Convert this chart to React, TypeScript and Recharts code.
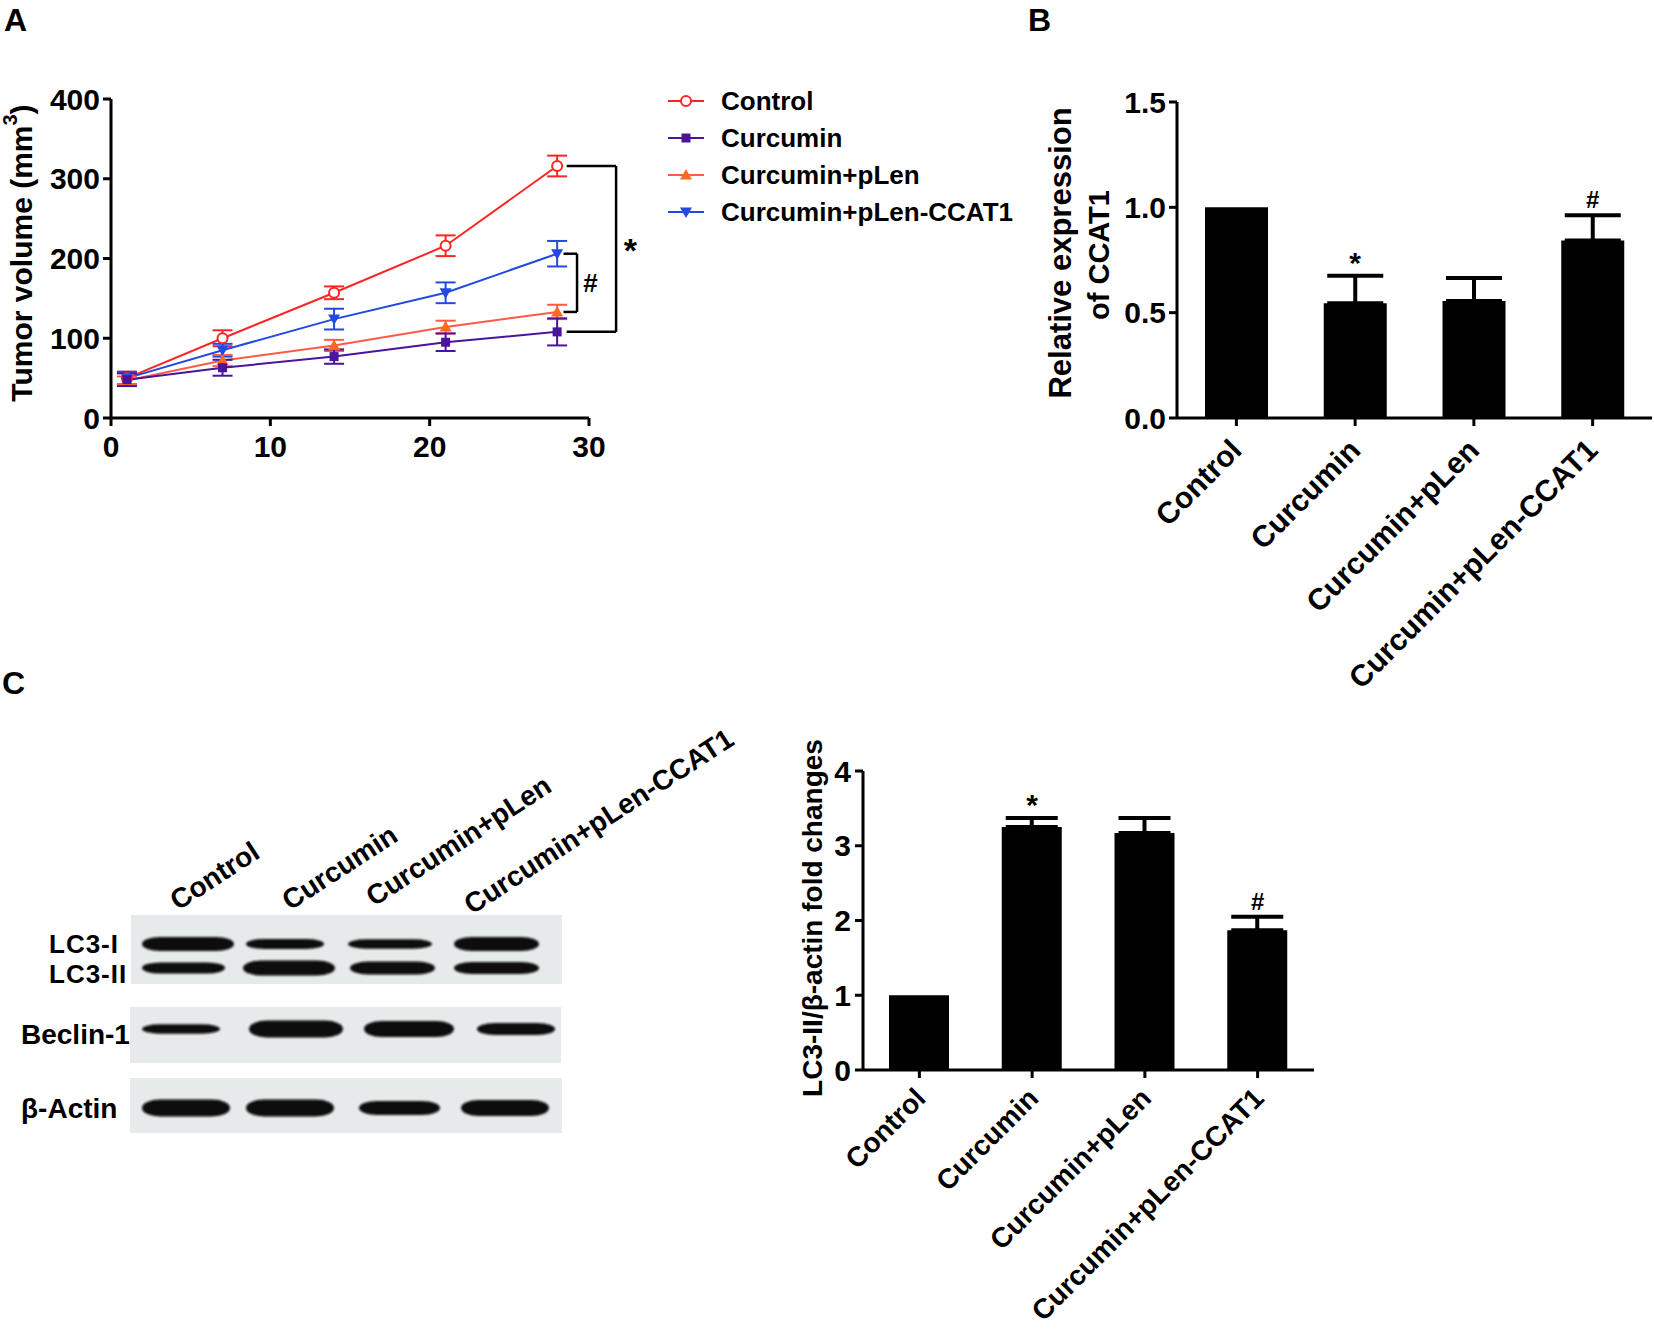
import React from 'react';
import {
  LineChart, Line, XAxis, YAxis, ErrorBar, ReferenceLine, ReferenceDot,
  BarChart, Bar, Label,
} from 'recharts';

// ---------------- DATA ----------------
const days = [1, 7, 14, 21, 28];
const controlVol = [50, 100, 157, 216, 316];
const controlErr = [8, 10, 8, 13, 13];
const curcuminVol = [48, 63, 77, 95, 108];
const curcuminErr = [8, 10, 9, 11, 17];
const pLenVol = [47, 72, 91, 114, 133];
const pLenErr = [5, 7, 7, 8, 9];
const ccat1Vol = [50, 85, 124, 157, 206];
const ccat1Err = [8, 8, 13, 13, 16];
const volTicks = [0, 100, 200, 300, 400];
const dayTicks = [0, 10, 20, 30];

const groups = ['Control', 'Curcumin', 'Curcumin+pLen', 'Curcumin+pLen-CCAT1'];
const ccat1Expr = [1.0, 0.545, 0.555, 0.843];
const ccat1ExprErr = [0, 0.13, 0.11, 0.12];
const exprTicks = [0, 0.5, 1.0, 1.5];
const exprMarks = ['', '*', '', '#'];

const lc3Fold = [1.0, 3.25, 3.17, 1.87];
const lc3FoldErr = [0, 0.12, 0.2, 0.18];
const foldTicks = [0, 1, 2, 3, 4];
const foldMarks = ['', '*', '', '#'];

// western blot band thickness (relative intensity) per lane
const lc3IBand = [14, 10, 9.5, 14];
const lc3IIBand = [11, 15, 13, 12];
const beclinBand = [9.5, 17, 16, 12];
const actinBand = [17, 17, 14, 16];

// ---------------- STYLE ----------------
const FONT = "'Liberation Sans', Arial, Helvetica, sans-serif";
const seriesA = [
  { key: 'control', err: 'controlErr', name: 'Control', color: '#ff2424', shape: 'circle' },
  { key: 'ccat1', err: 'ccat1Err', name: 'Curcumin+pLen-CCAT1', color: '#2249e0', shape: 'down' },
  { key: 'pLen', err: 'pLenErr', name: 'Curcumin+pLen', color: '#ff5a48', shape: 'up', markColor: '#ff6a1c' },
  { key: 'curcumin', err: 'curcuminErr', name: 'Curcumin', color: '#4a159a', shape: 'square' },
];
const legendOrder = ['control', 'curcumin', 'pLen', 'ccat1'];

const dataA = days.map((d, i) => ({
  day: d,
  control: controlVol[i], controlErr: controlErr[i],
  curcumin: curcuminVol[i], curcuminErr: curcuminErr[i],
  pLen: pLenVol[i], pLenErr: pLenErr[i],
  ccat1: ccat1Vol[i], ccat1Err: ccat1Err[i],
}));

const dataB = groups.map((g, i) => ({
  name: g, value: ccat1Expr[i], err: ccat1ExprErr[i] ? [0, ccat1ExprErr[i]] : null, mark: exprMarks[i],
}));
const dataC = groups.map((g, i) => ({
  name: g, value: lc3Fold[i], err: lc3FoldErr[i] ? [0, lc3FoldErr[i]] : null, mark: foldMarks[i],
}));

const Marker = ({ shape, cx, cy, color }: any) => {
  if (cx == null || cy == null) return null;
  switch (shape) {
    case 'circle':
      return <circle cx={cx} cy={cy} r={5} fill="#fff" stroke={color} strokeWidth={2} />;
    case 'square':
      return <rect x={cx - 4.5} y={cy - 4.5} width={9} height={9} fill={color} />;
    case 'up':
      return <polygon points={`${cx},${cy - 6} ${cx + 6},${cy + 4.5} ${cx - 6},${cy + 4.5}`} fill={color} />;
    default:
      return <polygon points={`${cx},${cy + 6} ${cx + 6},${cy - 4.5} ${cx - 6},${cy - 4.5}`} fill={color} />;
  }
};

const tickStyle = { fill: '#000', fontSize: 30, fontWeight: 700, fontFamily: FONT };
const axisLine = { stroke: '#000', strokeWidth: 3 };

const makeRotTick = (fontSize: number, dx: number, dy: number) => (props: any) => {
  const { x, y, payload } = props;
  const ax = x + dx;
  const ay = y + dy;
  return (
    <text x={ax} y={ay} transform={`rotate(-45, ${ax}, ${ay})`} textAnchor="end"
      fontSize={fontSize} fontWeight={700} fontFamily={FONT} fill="#000">
      {payload.value}
    </text>
  );
};
const RotTickB = makeRotTick(30, 7, 24);
const RotTickC = makeRotTick(28, 8, 20);

const markLabel = (mark: string) => ({
  value: mark,
  position: 'top' as const,
  offset: mark === '*' ? 2 : 6,
  fill: '#000',
  fontSize: mark === '*' ? 30 : 24,
  fontWeight: 700,
  fontFamily: FONT,
});

// ---------------- PANEL A ----------------
const PanelA = () => (
  <div style={{ position: 'absolute', left: 0, top: 0 }}>
    <LineChart width={660} height={470} data={dataA} margin={{ top: 99, right: 71, bottom: 0, left: 0 }}>
      <XAxis type="number" dataKey="day" domain={[0, 30]} ticks={dayTicks} axisLine={axisLine}
        tickLine={axisLine} tickSize={8} tickMargin={10} tick={tickStyle} height={52} allowDataOverflow />
      <YAxis type="number" domain={[0, 400]} ticks={volTicks} axisLine={axisLine} tickLine={axisLine}
        tickSize={8} tickMargin={3} tick={tickStyle} width={111}>
        <Label content={() => (
          <text x={21} y={253} transform="rotate(-90, 21, 253)" textAnchor="middle" dominantBaseline="central"
            fontSize={30} fontWeight={700} fontFamily={FONT} fill="#000">
            Tumor volume (mm<tspan dy={-11} fontSize={20}>3</tspan><tspan dy={11}>)</tspan>
          </text>
        )} />
      </YAxis>
      {seriesA.map((s) => (
        <Line key={s.key} type="linear" dataKey={s.key} stroke={s.color} strokeWidth={2}
          isAnimationActive={false}
          dot={(p: any) => <Marker key={`${s.key}-${p.index}`} shape={s.shape} cx={p.cx} cy={p.cy} color={s.markColor || s.color} />}
          activeDot={false}>
          <ErrorBar dataKey={s.err} width={10} stroke={s.color} strokeWidth={2} direction="y" />
        </Line>
      ))}
      {/* significance brackets */}
      <ReferenceLine segment={[{ x: 28.6, y: 316 }, { x: 31.7, y: 316 }]} stroke="#000" strokeWidth={2.5} ifOverflow="visible" />
      <ReferenceLine segment={[{ x: 31.7, y: 316 }, { x: 31.7, y: 108 }]} stroke="#000" strokeWidth={2.5} ifOverflow="visible" />
      <ReferenceLine segment={[{ x: 28.6, y: 108 }, { x: 31.7, y: 108 }]} stroke="#000" strokeWidth={2.5} ifOverflow="visible" />
      <ReferenceLine segment={[{ x: 28.4, y: 206 }, { x: 29.25, y: 206 }]} stroke="#000" strokeWidth={2.5} ifOverflow="visible" />
      <ReferenceLine segment={[{ x: 29.25, y: 206 }, { x: 29.25, y: 133 }]} stroke="#000" strokeWidth={2.5} ifOverflow="visible" />
      <ReferenceLine segment={[{ x: 28.4, y: 133 }, { x: 29.25, y: 133 }]} stroke="#000" strokeWidth={2.5} ifOverflow="visible" />
      <ReferenceDot x={32.6} y={222} r={1} fill="none" stroke="none" ifOverflow="visible"
        label={{ value: '*', position: 'center', dy: 9, fill: '#000', fontSize: 34, fontWeight: 700, fontFamily: FONT }} />
      <ReferenceDot x={30.1} y={170} r={1} fill="none" stroke="none" ifOverflow="visible"
        label={{ value: '#', position: 'center', fill: '#000', fontSize: 26, fontWeight: 700, fontFamily: FONT }} />
    </LineChart>
    {/* legend */}
    {legendOrder.map((k, i) => {
      const s = seriesA.find((q) => q.key === k)!;
      const cy = 101 + i * 37;
      return (
        <div key={k} style={{ position: 'absolute', left: 666, top: cy - 16, height: 32, display: 'flex', alignItems: 'center' }}>
          <svg width={40} height={20} style={{ display: 'block' }}>
            <line x1={2} y1={10} x2={38} y2={10} stroke={s.color} strokeWidth={2} />
            <Marker shape={s.shape} cx={20} cy={10} color={s.markColor || s.color} />
          </svg>
          <span style={{ marginLeft: 15, fontFamily: FONT, fontWeight: 700, fontSize: 26, lineHeight: '32px', color: '#000', whiteSpace: 'nowrap' }}>{s.name}</span>
        </div>
      );
    })}
  </div>
);

// ---------------- PANEL B ----------------
const PanelB = () => (
  <div style={{ position: 'absolute', left: 1034, top: 0 }}>
    <BarChart width={620} height={700} data={dataB} margin={{ top: 102, right: 2, bottom: 0, left: 0 }}>
      <XAxis dataKey="name" axisLine={axisLine} tickLine={axisLine} tickSize={8} height={282}
        tick={<RotTickB />} interval={0} />
      <YAxis type="number" domain={[0, 1.5]} ticks={exprTicks} tickFormatter={(v: number) => v.toFixed(1)}
        axisLine={axisLine} tickLine={axisLine} tickSize={8} tickMargin={3} tick={tickStyle} width={143}>
        <Label content={() => (
          <g>
            <text x={26} y={253} transform="rotate(-90, 26, 253)" textAnchor="middle" dominantBaseline="central"
              fontSize={31} fontWeight={700} fontFamily={FONT} fill="#000">Relative expression</text>
            <text x={65} y={255} transform="rotate(-90, 65, 255)" textAnchor="middle" dominantBaseline="central"
              fontSize={29} fontWeight={700} fontFamily={FONT} fill="#000">of CCAT1</text>
          </g>
        )} />
      </YAxis>
      <Bar dataKey="value" fill="#000" barSize={63} isAnimationActive={false}>
        <ErrorBar dataKey="err" width={28} stroke="#000" strokeWidth={4} direction="y" />
      </Bar>
      {dataB.filter((d) => d.mark).map((d) => (
        <ReferenceDot key={d.name} x={d.name} y={d.value + (d.err ? d.err[1] : 0)} r={1} fill="none" stroke="none"
          ifOverflow="visible" label={markLabel(d.mark)} />
      ))}
    </BarChart>
  </div>
);

// ---------------- PANEL C (bar) ----------------
const PanelC = () => (
  <div style={{ position: 'absolute', left: 780, top: 700 }}>
    <BarChart width={560} height={630} data={dataC} margin={{ top: 71, right: 26, bottom: 0, left: 0 }}>
      <XAxis dataKey="name" axisLine={axisLine} tickLine={axisLine} tickSize={8} height={260}
        tick={<RotTickC />} interval={0} />
      <YAxis type="number" domain={[0, 4]} ticks={foldTicks} axisLine={axisLine} tickLine={axisLine}
        tickSize={8} tickMargin={4} tick={tickStyle} width={83}>
        <Label content={() => (
          <text x={32} y={218} transform="rotate(-90, 32, 218)" textAnchor="middle" dominantBaseline="central"
            fontSize={28} fontWeight={700} fontFamily={FONT} fill="#000">LC3-II/β-actin fold changes</text>
        )} />
      </YAxis>
      <Bar dataKey="value" fill="#000" barSize={60} isAnimationActive={false}>
        <ErrorBar dataKey="err" width={26} stroke="#000" strokeWidth={4} direction="y" />
      </Bar>
      {dataC.filter((d) => d.mark).map((d) => (
        <ReferenceDot key={d.name} x={d.name} y={d.value + (d.err ? d.err[1] : 0)} r={1} fill="none" stroke="none"
          ifOverflow="visible" label={markLabel(d.mark)} />
      ))}
    </BarChart>
  </div>
);

// ---------------- WESTERN BLOT ----------------
const blotRows = [
  { cy: 944, bands: lc3IBand, ext: [[142, 234], [246, 324], [348, 432], [454, 539]] },
  { cy: 968, bands: lc3IIBand, ext: [[142, 225], [243, 335], [350, 435], [454, 539]] },
  { cy: 1029, bands: beclinBand, ext: [[142, 220], [249, 343], [364, 454], [477, 555]] },
  { cy: 1108, bands: actinBand, ext: [[142, 230], [246, 334], [359, 440], [461, 549]] },
];
const blotBoxes = [[131, 915, 431, 69], [130, 1007, 431, 56], [130, 1078, 432, 55]];
const laneLabelPos = [[178, 911], [290, 911], [374, 907], [472, 915]];

const Blot = () => (
  <svg width={740} height={1140} style={{ position: 'absolute', left: 0, top: 0 }}>
    <defs>
      <filter id="bandBlur" x="-10%" y="-50%" width="120%" height="200%">
        <feGaussianBlur stdDeviation="1.3" />
      </filter>
    </defs>
    {blotBoxes.map(([x, y, w, h], i) => (
      <rect key={i} x={x} y={y} width={w} height={h} fill="#e7eaea" />
    ))}
    {blotRows.map((r, ri) => r.bands.map((t, li) => {
      const [x0, x1] = r.ext[li];
      return (
        <rect key={`${ri}-${li}`} x={x0} y={r.cy - t / 2} width={x1 - x0} height={t} rx={18} ry={t / 2}
          fill="#0c0c0c" filter="url(#bandBlur)" />
      );
    }))}
    <g fontFamily={FONT} fontWeight={700} fill="#000">
      <text x={49} y={953} fontSize={26} letterSpacing={1}>LC3-I</text>
      <text x={49} y={983} fontSize={26} letterSpacing={1}>LC3-II</text>
      <text x={21} y={1044} fontSize={28}>Beclin-1</text>
      <text x={21} y={1118} fontSize={28}>β-Actin</text>
    </g>
    <g fontFamily={FONT} fontWeight={700} fontSize={28} fill="#000">
      {groups.map((g, i) => {
        const [x, y] = laneLabelPos[i];
        return <text key={g} x={x} y={y} transform={`rotate(-33, ${x}, ${y})`}>{g}</text>;
      })}
    </g>
  </svg>
);

const PanelLetter = ({ ch, x, y }: any) => (
  <div style={{ position: 'absolute', left: x, top: y, fontFamily: FONT, fontWeight: 700, fontSize: 32, lineHeight: '32px', color: '#000' }}>{ch}</div>
);

export default function App() {
  return (
    <div style={{ position: 'absolute', left: 0, top: 0, width: 1654, height: 1330, background: '#fff', overflow: 'hidden' }}>
      <PanelLetter ch="A" x={4} y={4} />
      <PanelLetter ch="B" x={1028} y={4} />
      <PanelLetter ch="C" x={2} y={667} />
      <PanelA />
      <PanelB />
      <Blot />
      <PanelC />
    </div>
  );
}
